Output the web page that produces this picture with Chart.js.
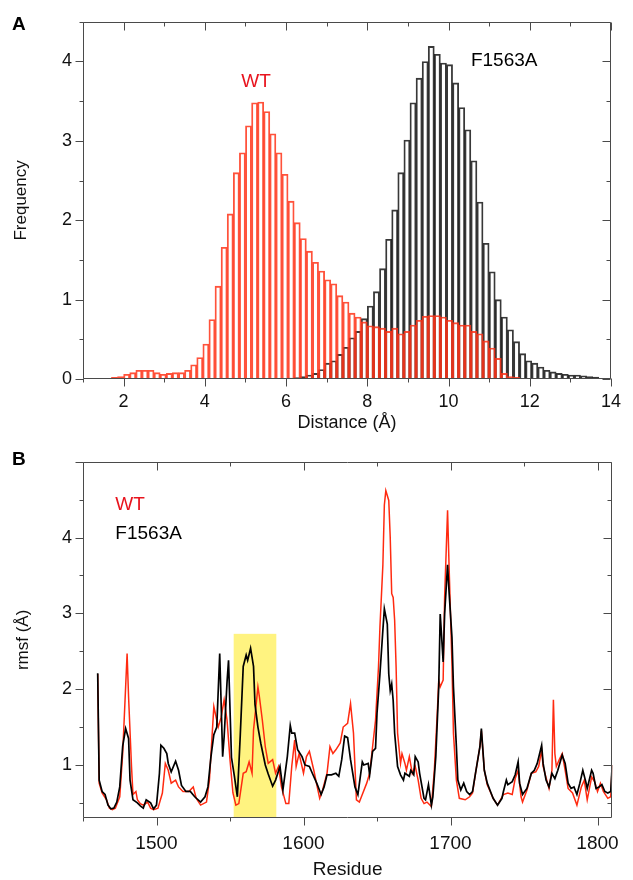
<!DOCTYPE html>
<html><head><meta charset="utf-8">
<script src="https://cdn.jsdelivr.net/npm/chart.js@4.4.1/dist/chart.umd.min.js"></script>
<style>
html,body{margin:0;padding:0;background:#fff;}
#wrap{position:relative;width:633px;height:880px;overflow:hidden;background:#fff;}
#cA{position:absolute;left:0;top:0;}
#cB{position:absolute;left:0;top:440px;}
</style></head><body>
<div id="wrap">
<canvas id="cA" width="633" height="440"></canvas>
<canvas id="cB" width="633" height="440"></canvas>
</div>
<script>
// ---------- Panel A: distance histograms ----------
const binStart = 1.55;      // left edge of first bin (Å)
const binWidth = 0.15;      // bin width (Å)
const wtFreq = [
 0.01,0.02,0.03,0.06,0.08,0.11,0.11,0.11,0.08,0.06,
 0.07,0.08,0.08,0.11,0.18,0.27,0.44,0.75,1.17,1.66,
 2.08,2.60,2.85,3.19,3.48,3.49,3.37,3.09,2.85,2.58,
 2.24,1.97,1.77,1.61,1.47,1.36,1.25,1.20,1.05,0.97,
 0.83,0.78,0.72,0.67,0.66,0.64,0.60,0.64,0.57,0.60,
 0.68,0.74,0.79,0.80,0.80,0.78,0.74,0.71,0.68,0.68,
 0.60,0.57,0.48,0.39,0.26,0.07,0.03,0.02,0.01,0.005,
 0,0,0,0,0,0,0,0,0,0,
 0,0,0
];
const mutFreq = [
 0,0,0,0,0,0,0,0,0,0,
 0,0,0,0,0,0,0,0,0,0,
 0,0,0,0,0,0.002,0.004,0.006,0.008,0.01,
 0.013,0.017,0.03,0.05,0.07,0.12,0.20,0.23,0.31,0.40,
 0.52,0.60,0.76,0.92,1.10,1.39,1.76,2.13,2.60,3.01,
 3.48,3.79,4.00,4.19,4.09,3.98,3.96,3.73,3.42,3.14,
 2.75,2.23,1.71,1.35,1.00,0.78,0.62,0.47,0.32,0.23,
 0.20,0.15,0.11,0.09,0.07,0.06,0.05,0.05,0.04,0.03,
 0.025,0.01,0.005
];
const distTicks = [2,4,6,8,10,12,14];

// ---------- Panel B: rmsf per residue ----------
const resMut = [
 1460,1461,1463,1465,1467,1469,1471,1473,1475,1477,
 1479,1481,1482,1484,1487,1489,1491,1493,1496,1498,
 1500,1502,1503,1505,1507,1508,1510,1513,1515,1517,
 1520,1523,1526,1530,1533,1535,1537,1539,1541,1543,
 1545,1546,1548,1549,1551,1553,1555,1557,1559,1561,
 1562,1564,1566,1567,1569,1571,1574,1576,1579,1581,
 1584,1586,1589,1591,1592,1594,1596,1599,1601,1604,
 1606,1609,1612,1614,1616,1619,1622,1624,1626,1628,
 1630,1632,1635,1637,1640,1641,1644,1645,1647,1649,
 1650,1652,1654,1655,1657,1658,1659,1660,1661,1662,
 1664,1666,1668,1669,1672,1673,1675,1676,1678,1679,
 1682,1683,1685,1687,1688,1690,1692,1693,1694,1695,
 1696,1698,1699,1701,1702,1704,1705,1707,1709,1711,
 1713,1715,1717,1720,1721,1723,1725,1727,1729,1732,
 1735,1736,1738,1739,1742,1744,1746,1747,1749,1752,
 1755,1757,1759,1762,1763,1765,1767,1769,1771,1773,
 1776,1778,1780,1782,1784,1786,1788,1790,1792,1793,
 1796,1797,1799,1801,1803,1805,1807,1809,1810
];
const rmsfMut = [
 2.21,0.80,0.65,0.61,0.47,0.42,0.43,0.51,0.71,1.25,
 1.48,1.35,0.80,0.54,0.50,0.46,0.43,0.54,0.50,0.42,
 0.47,0.89,1.26,1.22,1.15,1.02,0.91,1.05,0.93,0.73,
 0.65,0.65,0.58,0.51,0.58,0.71,1.10,1.40,1.50,2.47,
 1.11,1.37,2.10,2.38,1.10,0.85,0.58,1.40,2.30,2.45,
 2.38,2.54,2.30,1.80,1.50,1.28,1.00,0.88,0.72,0.80,
 0.98,0.67,1.11,1.52,1.42,1.42,1.20,1.11,1.00,0.98,
 0.89,0.76,0.61,0.71,0.87,0.87,0.89,0.85,1.07,1.38,
 1.36,1.07,0.71,0.61,1.04,1.00,1.02,0.87,1.18,1.22,
 1.68,2.20,2.78,3.06,2.86,2.20,1.98,2.07,1.85,1.42,
 0.98,0.87,0.80,0.89,0.85,0.93,0.87,1.11,1.04,0.89,
 0.56,0.54,0.74,0.47,0.58,1.11,2.03,2.99,2.68,2.36,
 2.99,3.64,3.29,2.68,2.03,1.24,0.80,0.67,0.76,0.65,
 0.61,0.65,0.89,1.24,1.48,0.93,0.76,0.66,0.56,0.47,
 0.56,0.65,0.80,0.74,0.78,0.87,1.04,0.76,0.61,0.69,
 0.89,0.93,1.02,1.26,1.02,0.80,0.71,0.89,0.82,0.93,
 1.13,1.02,0.76,0.69,0.71,0.61,0.76,0.93,0.78,0.69,
 0.93,0.89,0.69,0.71,0.74,0.65,0.63,0.65,1.00
];
const resWT = [
 1460,1461,1463,1466,1468,1470,1472,1475,1477,1479,
 1480,1481,1483,1484,1486,1487,1489,1491,1494,1496,
 1498,1501,1504,1506,1508,1510,1513,1515,1518,1522,
 1525,1527,1530,1534,1536,1539,1541,1542,1544,1546,
 1548,1550,1552,1554,1556,1559,1561,1563,1565,1566,
 1569,1570,1572,1574,1576,1579,1581,1583,1585,1588,
 1590,1592,1594,1595,1597,1600,1602,1604,1607,1609,
 1611,1613,1616,1618,1620,1622,1625,1627,1630,1632,
 1634,1636,1638,1640,1643,1645,1647,1649,1651,1652,
 1654,1655,1656,1658,1659,1660,1661,1662,1663,1664,
 1666,1667,1669,1670,1672,1674,1676,1678,1680,1682,
 1684,1687,1689,1691,1692,1693,1695,1696,1698,1699,
 1701,1702,1704,1706,1710,1713,1715,1717,1720,1721,
 1723,1725,1727,1729,1732,1736,1739,1742,1744,1746,
 1748,1749,1752,1755,1758,1760,1762,1763,1766,1767,
 1769,1770,1771,1772,1774,1776,1778,1780,1783,1786,
 1789,1791,1793,1796,1798,1800,1802,1804,1807,1809,
 1810
];
const rmsfWT = [
 2.20,0.76,0.63,0.54,0.43,0.41,0.43,0.58,1.15,2.03,
 2.47,1.90,0.98,0.61,0.65,0.54,0.49,0.47,0.51,0.43,
 0.41,0.43,0.63,1.02,0.93,0.76,0.80,0.71,0.65,0.65,
 0.71,0.56,0.47,0.51,0.80,1.77,1.59,1.50,1.63,1.86,
 1.59,1.07,0.63,0.47,0.49,0.89,0.91,1.04,0.89,1.46,
 2.03,1.90,1.59,1.24,1.02,1.07,0.89,0.98,0.71,0.49,
 0.49,0.98,1.33,0.98,1.15,0.89,1.11,1.18,0.93,0.74,
 0.56,0.67,0.89,1.24,1.15,1.20,1.29,1.50,1.55,1.81,
 1.42,0.54,0.51,0.61,0.76,0.89,1.24,1.59,2.29,2.82,
 3.64,4.43,4.62,4.49,4.00,3.26,3.21,2.91,2.29,1.42,
 1.02,1.15,1.02,0.93,1.11,0.89,0.98,0.80,0.56,0.49,
 0.51,0.45,0.93,1.68,2.12,2.03,2.12,3.21,4.36,3.64,
 2.33,1.42,0.80,0.56,0.54,0.58,0.63,0.89,1.24,1.45,
 0.93,0.74,0.65,0.56,0.47,0.61,0.63,0.61,0.82,0.93,
 0.58,0.51,0.67,0.89,0.91,0.98,1.20,0.98,0.76,0.69,
 0.93,1.86,1.15,0.98,1.07,1.15,0.93,0.69,0.63,0.47,
 0.71,0.80,0.54,0.84,0.78,0.65,0.76,0.65,0.56,0.58,
 1.00
];
const highlight = [1552.5, 1581.5, 2.73]; // residue start, residue end, top rmsf
const residueTicks = [1500,1600,1700,1800];

// ---------- helpers ----------
const FONT = '"Liberation Sans", Arial, Helvetica, sans-serif';
const RED = '#ff2a10';
const TXTRED = '#e8141e';
const AXC = '#4a4a4a';

function fixedSize(w, h){
  return { w, h };
}

// Draws the frame and tick marks (outward on left/bottom, inward on top/right)
const frameTicks = {
  id: 'frameTicks',
  afterDraw(chart, args, opts) {
    const {ctx, chartArea: a, scales} = chart;
    const xs = scales.x, ys = scales.y;
    ctx.save();
    ctx.strokeStyle = AXC;
    ctx.lineWidth = 1;
    ctx.beginPath();
    const L = Math.round(a.left)+0.5, R = Math.round(a.right)-0.5, T = Math.round(a.top)+0.5, B = Math.round(a.bottom)-0.5;
    ctx.moveTo(L, T); ctx.lineTo(R, T); ctx.lineTo(R, B); ctx.lineTo(L, B); ctx.closePath();
    ctx.stroke();
    ctx.beginPath();
    xs.ticks.forEach(t => {
      if (t.value < xs.min - 1e-9 || t.value > xs.max + 1e-9) return;
      const p = Math.round(xs.getPixelForValue(t.value)) + 0.5;
      const len = opts.isMajorX(t.value) ? 8 : 4;
      ctx.moveTo(p, B); ctx.lineTo(p, B + len);
      ctx.moveTo(p, T); ctx.lineTo(p, T + len);
    });
    ys.ticks.forEach(t => {
      if (t.value < ys.min - 1e-9 || t.value > ys.max + 1e-9) return;
      const p = Math.round(ys.getPixelForValue(t.value)) + 0.5;
      const len = opts.isMajorY(t.value) ? 8 : 4;
      ctx.moveTo(L - len, p); ctx.lineTo(L, p);
      ctx.moveTo(R - len, p); ctx.lineTo(R, p);
    });
    ctx.stroke();
    ctx.restore();
  }
};

// Text annotations placed in data coordinates, plus the panel letter
const notes = {
  id: 'notes',
  afterDraw(chart, args, opts) {
    const {ctx, scales} = chart;
    ctx.save();
    opts.items.forEach(it => {
      ctx.font = it.font;
      ctx.fillStyle = it.color;
      ctx.textAlign = it.align || 'left';
      ctx.textBaseline = 'middle';
      ctx.fillText(it.text, scales.x.getPixelForValue(it.x), scales.y.getPixelForValue(it.y));
    });
    if (opts.letter) {
      ctx.font = 'bold 19px ' + FONT;
      ctx.fillStyle = '#000';
      ctx.textAlign = 'left';
      ctx.textBaseline = 'alphabetic';
      ctx.fillText(opts.letter.text, opts.letter.px, opts.letter.py);
    }
    ctx.restore();
  }
};

// Yellow highlight box behind the lines
const highlightBox = {
  id: 'highlightBox',
  beforeDatasetsDraw(chart, args, opts) {
    if (!opts.range) return;
    const {ctx, chartArea: a, scales} = chart;
    const x0 = scales.x.getPixelForValue(opts.range[0]);
    const x1 = scales.x.getPixelForValue(opts.range[1]);
    const y0 = scales.y.getPixelForValue(opts.range[2]);
    ctx.save();
    ctx.fillStyle = '#fff380';
    ctx.fillRect(x0, y0, x1 - x0, a.bottom - y0);
    ctx.restore();
  }
};

Chart.register(frameTicks, notes, highlightBox);
Chart.defaults.font.family = FONT;
Chart.defaults.color = '#111';

// ---------- Chart A ----------
const binCenters = wtFreq.map((_, i) => +(binStart + binWidth * (i + 0.5)).toFixed(3));
const toXY = (xsArr, ysArr) => xsArr.map((x, i) => ({x, y: ysArr[i] === 0 ? null : ysArr[i]}));

new Chart(document.getElementById('cA'), {
  type: 'bar',
  data: {
    datasets: [
      { label: 'WT', data: toXY(binCenters, wtFreq), grouped: false,
        backgroundColor: 'rgba(0,0,0,0)', borderColor: 'rgba(255,52,25,0.85)', borderWidth: 1.2,
        barPercentage: 1, categoryPercentage: 1, order: 0 },
      { label: 'F1563A', data: toXY(binCenters, mutFreq), grouped: false,
        backgroundColor: 'rgba(0,0,0,0)', borderColor: 'rgba(0,0,0,0.78)', borderWidth: 1.2,
        barPercentage: 1, categoryPercentage: 1, order: 1 }
    ]
  },
  options: {
    responsive: false, animation: false, devicePixelRatio: 1,
    layout: { padding: { left: 0, right: 13, top: 21, bottom: 0 } },
    plugins: {
      legend: { display: false }, tooltip: { enabled: false },
      frameTicks: { isMajorX: v => distTicks.includes(v), isMajorY: v => Number.isInteger(v) },
      notes: { items: [
        { text: 'WT', x: 5.26, y: 3.74, color: TXTRED, font: '19px ' + FONT, align: 'center' },
        { text: 'F1563A', x: 11.37, y: 4.01, color: '#000', font: '19px ' + FONT, align: 'center' }
      ], letter: { text: 'A', px: 12, py: 30 } }
    },
    scales: {
      x: { type: 'linear', min: 1, max: 14, offset: false,
        afterFit: s => { s.height = 61; },
        grid: { display: false, drawTicks: false }, border: { display: false },
        ticks: { stepSize: 1, autoSkip: false, maxRotation: 0, padding: 12,
          font: { size: 18 }, color: '#111',
          callback: v => distTicks.includes(v) ? String(v) : '' },
        title: { display: true, text: 'Distance (Å)', font: { size: 18, lineHeight: 1 }, color: '#111',
          padding: { top: 0, bottom: 8 } } },
      y: { min: 0, max: 4.5,
        afterFit: s => { s.width = 83; },
        grid: { display: false, drawTicks: false }, border: { display: false },
        ticks: { stepSize: 0.5, autoSkip: false, padding: 11, font: { size: 18 }, color: '#111',
          callback: v => Number.isInteger(v) ? String(v) : '' },
        title: { display: true, text: 'Frequency', font: { size: 17, lineHeight: 1 }, color: '#111',
          padding: { top: 13, bottom: 0 } } }
    }
  }
});

// ---------- Chart B ----------
new Chart(document.getElementById('cB'), {
  type: 'line',
  data: {
    datasets: [
      { label: 'F1563A', data: resMut.map((x, i) => ({x, y: rmsfMut[i]})),
        borderColor: '#000', borderWidth: 1.7, pointRadius: 0, tension: 0, order: 0 },
      { label: 'WT', data: resWT.map((x, i) => ({x, y: rmsfWT[i]})),
        borderColor: RED, borderWidth: 1.5, pointRadius: 0, tension: 0, order: 1 }
    ]
  },
  options: {
    responsive: false, animation: false, devicePixelRatio: 1,
    layout: { padding: { left: 0, right: 13, top: 21, bottom: 0 } },
    plugins: {
      legend: { display: false }, tooltip: { enabled: false },
      highlightBox: { range: highlight },
      frameTicks: { isMajorX: v => residueTicks.includes(v), isMajorY: v => Number.isInteger(v) },
      notes: { items: [
        { text: 'WT', x: 1472, y: 4.43, color: TXTRED, font: '19px ' + FONT, align: 'left' },
        { text: 'F1563A', x: 1472, y: 4.05, color: '#000', font: '19px ' + FONT, align: 'left' }
      ], letter: { text: 'B', px: 12, py: 25 } }
    },
    scales: {
      x: { type: 'linear', min: 1450, max: 1810,
        afterFit: s => { s.height = 62; },
        grid: { display: false, drawTicks: false }, border: { display: false },
        ticks: { stepSize: 50, includeBounds: false, autoSkip: false, maxRotation: 0, padding: 14,
          font: { size: 19 }, color: '#111',
          callback: v => residueTicks.includes(v) ? String(v) : '' },
        title: { display: true, text: 'Residue', font: { size: 19, lineHeight: 1 }, color: '#111',
          padding: { top: 0, bottom: 1 } } },
      y: { min: 0.3, max: 5.0,
        afterFit: s => { s.width = 83; },
        grid: { display: false, drawTicks: false }, border: { display: false },
        ticks: { stepSize: 0.5, includeBounds: false, autoSkip: false, padding: 11, font: { size: 18 }, color: '#111',
          callback: v => (Number.isInteger(v) && v < 5) ? String(v) : '' },
        title: { display: true, text: 'rmsf (Å)', font: { size: 17, lineHeight: 1 }, color: '#111',
          padding: { top: 15, bottom: 0 } } }
    }
  }
});
</script>
</body></html>
